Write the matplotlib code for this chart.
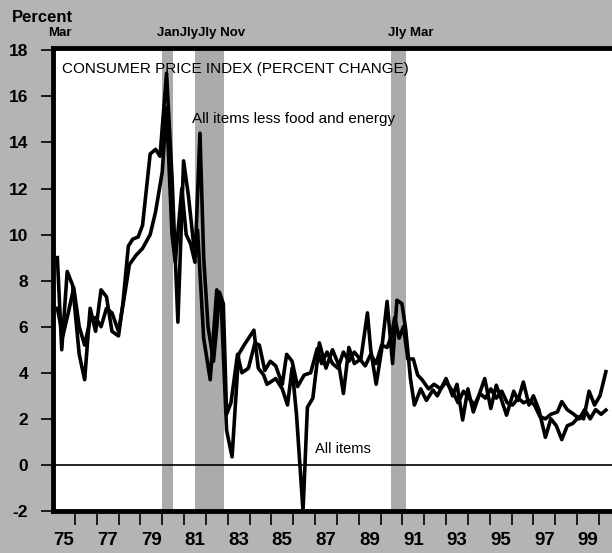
import matplotlib.pyplot as plt
import numpy as np

plt.rcParams['font.family'] = ['Liberation Sans', 'DejaVu Sans']

# All items CPI (annualized percent change)
years_all = [1975.2, 1975.4, 1975.65, 1975.9, 1976.2, 1976.45, 1976.7, 1976.95,
             1977.2, 1977.45, 1977.7, 1978.0, 1978.2, 1978.45, 1978.65, 1978.9,
             1979.1, 1979.45, 1979.7, 1979.9, 1980.2, 1980.45, 1980.72, 1980.98,
             1981.2, 1981.45, 1981.62, 1981.9, 1982.2, 1982.5, 1982.7, 1982.95,
             1983.2, 1983.5, 1983.75, 1984.2, 1984.4, 1984.65, 1984.8, 1985.2,
             1985.5, 1985.74, 1985.95, 1986.15, 1986.45, 1986.65, 1986.9, 1987.2,
             1987.5, 1987.8, 1988.1, 1988.3, 1988.55, 1988.8, 1989.1, 1989.4,
             1989.55, 1989.8, 1990.05, 1990.3, 1990.55, 1990.75, 1990.98, 1991.15,
             1991.37, 1991.55, 1991.84, 1992.1, 1992.4, 1992.6, 1993.0, 1993.3,
             1993.5, 1993.76, 1994.0, 1994.25, 1994.5, 1994.77, 1995.05, 1995.3,
             1995.55, 1995.77, 1996.1, 1996.3, 1996.54, 1996.8, 1997.0, 1997.25,
             1997.55, 1997.8, 1998.05, 1998.3, 1998.55, 1998.8, 1999.1, 1999.3,
             1999.55, 1999.8, 2000.05, 2000.32]
all_items = [9.0, 5.0, 8.4, 7.8, 4.8, 3.7, 6.8, 5.8,
             7.6, 7.3, 5.8, 5.6, 7.0, 9.5, 9.8, 9.9,
             10.4, 13.5, 13.7, 13.4, 17.0, 12.5, 6.2, 13.2,
             11.7, 9.5, 10.2, 5.5, 3.7, 7.6, 7.1, 1.5,
             0.35, 4.8, 5.2, 5.85, 4.2, 3.9, 3.5, 3.75,
             3.3, 2.6, 4.2, 2.2, -2.0, 2.5, 2.9, 5.3,
             4.2, 5.0, 4.3, 3.1, 5.1, 4.4, 4.6, 6.6,
             5.0, 3.5, 5.0, 7.1, 4.4, 7.15, 7.0, 5.9,
             3.75, 2.6, 3.3, 2.8, 3.25, 3.0, 3.75, 3.0,
             3.5, 1.95, 3.3, 2.3, 3.0, 3.75, 2.45, 3.46,
             2.8, 2.16, 3.2, 2.8, 3.6, 2.6, 3.0, 2.4,
             1.2, 2.0, 1.7, 1.1, 1.7, 1.8, 2.1, 2.0,
             3.2, 2.6, 3.0, 4.05]

# All items less food and energy
years_core = [1975.2, 1975.45, 1975.7, 1975.95, 1976.2, 1976.45, 1976.7, 1976.95,
              1977.2, 1977.45, 1977.7, 1978.0, 1978.25, 1978.5, 1978.8, 1979.1,
              1979.45, 1979.7, 1980.0, 1980.2, 1980.45, 1980.6, 1980.9, 1981.1,
              1981.3, 1981.5, 1981.73, 1981.9, 1982.1, 1982.35, 1982.5, 1982.62,
              1982.8, 1982.95, 1983.15, 1983.45, 1983.65, 1983.95, 1984.25, 1984.45,
              1984.7, 1984.95, 1985.2, 1985.5, 1985.7, 1985.95, 1986.2, 1986.5,
              1986.8, 1987.1, 1987.3, 1987.55, 1987.8, 1988.05, 1988.3, 1988.55,
              1988.8, 1989.05, 1989.3, 1989.55, 1989.8, 1990.05, 1990.3, 1990.5,
              1990.65, 1990.85, 1991.05, 1991.25, 1991.5, 1991.7, 1991.9, 1992.2,
              1992.45, 1992.75, 1993.0, 1993.3, 1993.55, 1993.8, 1994.05, 1994.3,
              1994.55, 1994.8, 1995.05, 1995.3, 1995.55, 1995.8, 1996.05, 1996.3,
              1996.55, 1996.8, 1997.05, 1997.3, 1997.55, 1997.8, 1998.1, 1998.3,
              1998.55, 1998.85, 1999.1, 1999.35, 1999.6, 1999.85, 2000.1, 2000.32]
core_items = [6.8, 5.6, 6.6, 7.7, 6.0, 5.2, 6.3, 6.4,
              6.0, 6.8, 6.6, 5.8, 7.2, 8.7, 9.1, 9.4,
              10.0, 11.0, 12.7, 15.5, 10.0, 8.8, 12.0, 10.0,
              9.6, 8.8, 14.4, 9.0, 6.0, 4.5, 6.0, 7.5,
              7.0, 2.2, 2.7, 4.8, 4.0, 4.2, 5.3, 5.2,
              4.1, 4.5, 4.3, 3.5, 4.8, 4.5, 3.4, 3.9,
              4.0, 5.05, 4.4, 4.9, 4.4, 4.2, 4.9, 4.5,
              4.9, 4.6, 4.3, 4.8, 4.4, 5.2, 5.1, 5.6,
              6.4, 5.5, 6.0, 4.6, 4.6, 3.9, 3.7, 3.3,
              3.5, 3.3, 3.6, 3.2, 2.7, 3.2, 2.9, 2.6,
              3.1, 2.9, 3.3, 2.9, 3.2, 2.7, 2.6, 2.9,
              2.7, 2.8, 2.6, 2.1, 2.0, 2.2, 2.3, 2.75,
              2.4, 2.2, 2.0, 2.4, 2.0, 2.4, 2.2, 2.38]

# recession periods (start, end)
recessions = [(1980.0, 1980.5), (1981.5, 1982.83), (1990.5, 1991.17)]
year_labels = ['75', '77', '79', '81', '83', '85', '87', '89', '91', '93', '95', '97', '99']

fig = plt.figure(figsize=(6.12, 5.53), dpi=100, facecolor='#b4b4b4')
ax = fig.add_axes([53/612, 42/553, 1 - 53/612 + 0.01, 463/553])
ax.set_facecolor('white')

for start, end in recessions:
    ax.axvspan(start, end, color='#ababab', lw=0, zorder=1)

ax.axhline(0, color='black', lw=1.2, zorder=2)
ax.plot(years_all, all_items, color='black', lw=2.6, zorder=3)
ax.plot(years_core, core_items, color='black', lw=2.6, zorder=3)

ax.set_xlim(1975.0, 2000.88)
ax.set_ylim(-2, 18.1)

for side in ['left', 'top', 'bottom']:
    ax.spines[side].set_linewidth(3.5)
ax.spines['right'].set_visible(False)

ax.set_yticks(np.arange(-2, 19, 2))
ax.set_yticklabels([str(v) for v in range(-2, 19, 2)], fontsize=12.5, fontweight='bold')
ax.tick_params(axis='y', direction='out', length=9, width=1.2, pad=9)
ax.set_xticks([1975.5 + 2 * i for i in range(len(year_labels))])
ax.set_xticklabels(year_labels, fontsize=13.5, fontweight='bold')
ax.set_xticks(np.arange(1976, 2001, 1), minor=True)
ax.tick_params(axis='x', which='major', length=0, pad=15)
ax.tick_params(axis='x', which='minor', direction='out', length=10, width=1.2)

ax.text(0.016, 0.955, 'CONSUMER PRICE INDEX (PERCENT CHANGE)', transform=ax.transAxes,
        fontsize=11, va='center', ha='left')
ax.text(1981.35, 15.0, 'All items less food and energy', fontsize=11, va='center', ha='left')
ax.text(1987.0, 0.7, 'All items', fontsize=10.5, va='center', ha='left')

fig.text(12/612, 1 - 17/553, 'Percent', fontsize=12, fontweight='bold', va='center', ha='left')
fig.text(60/612, 1 - 33/553, 'Mar', fontsize=9.5, fontweight='bold', va='center', ha='center')
fig.text(201/612, 1 - 33/553, 'JanJlyJly Nov', fontsize=9.5, fontweight='bold', va='center', ha='center')
fig.text(411/612, 1 - 33/553, 'Jly Mar', fontsize=9.5, fontweight='bold', va='center', ha='center')

fig.savefig('out.png', dpi=100, facecolor=fig.get_facecolor())
